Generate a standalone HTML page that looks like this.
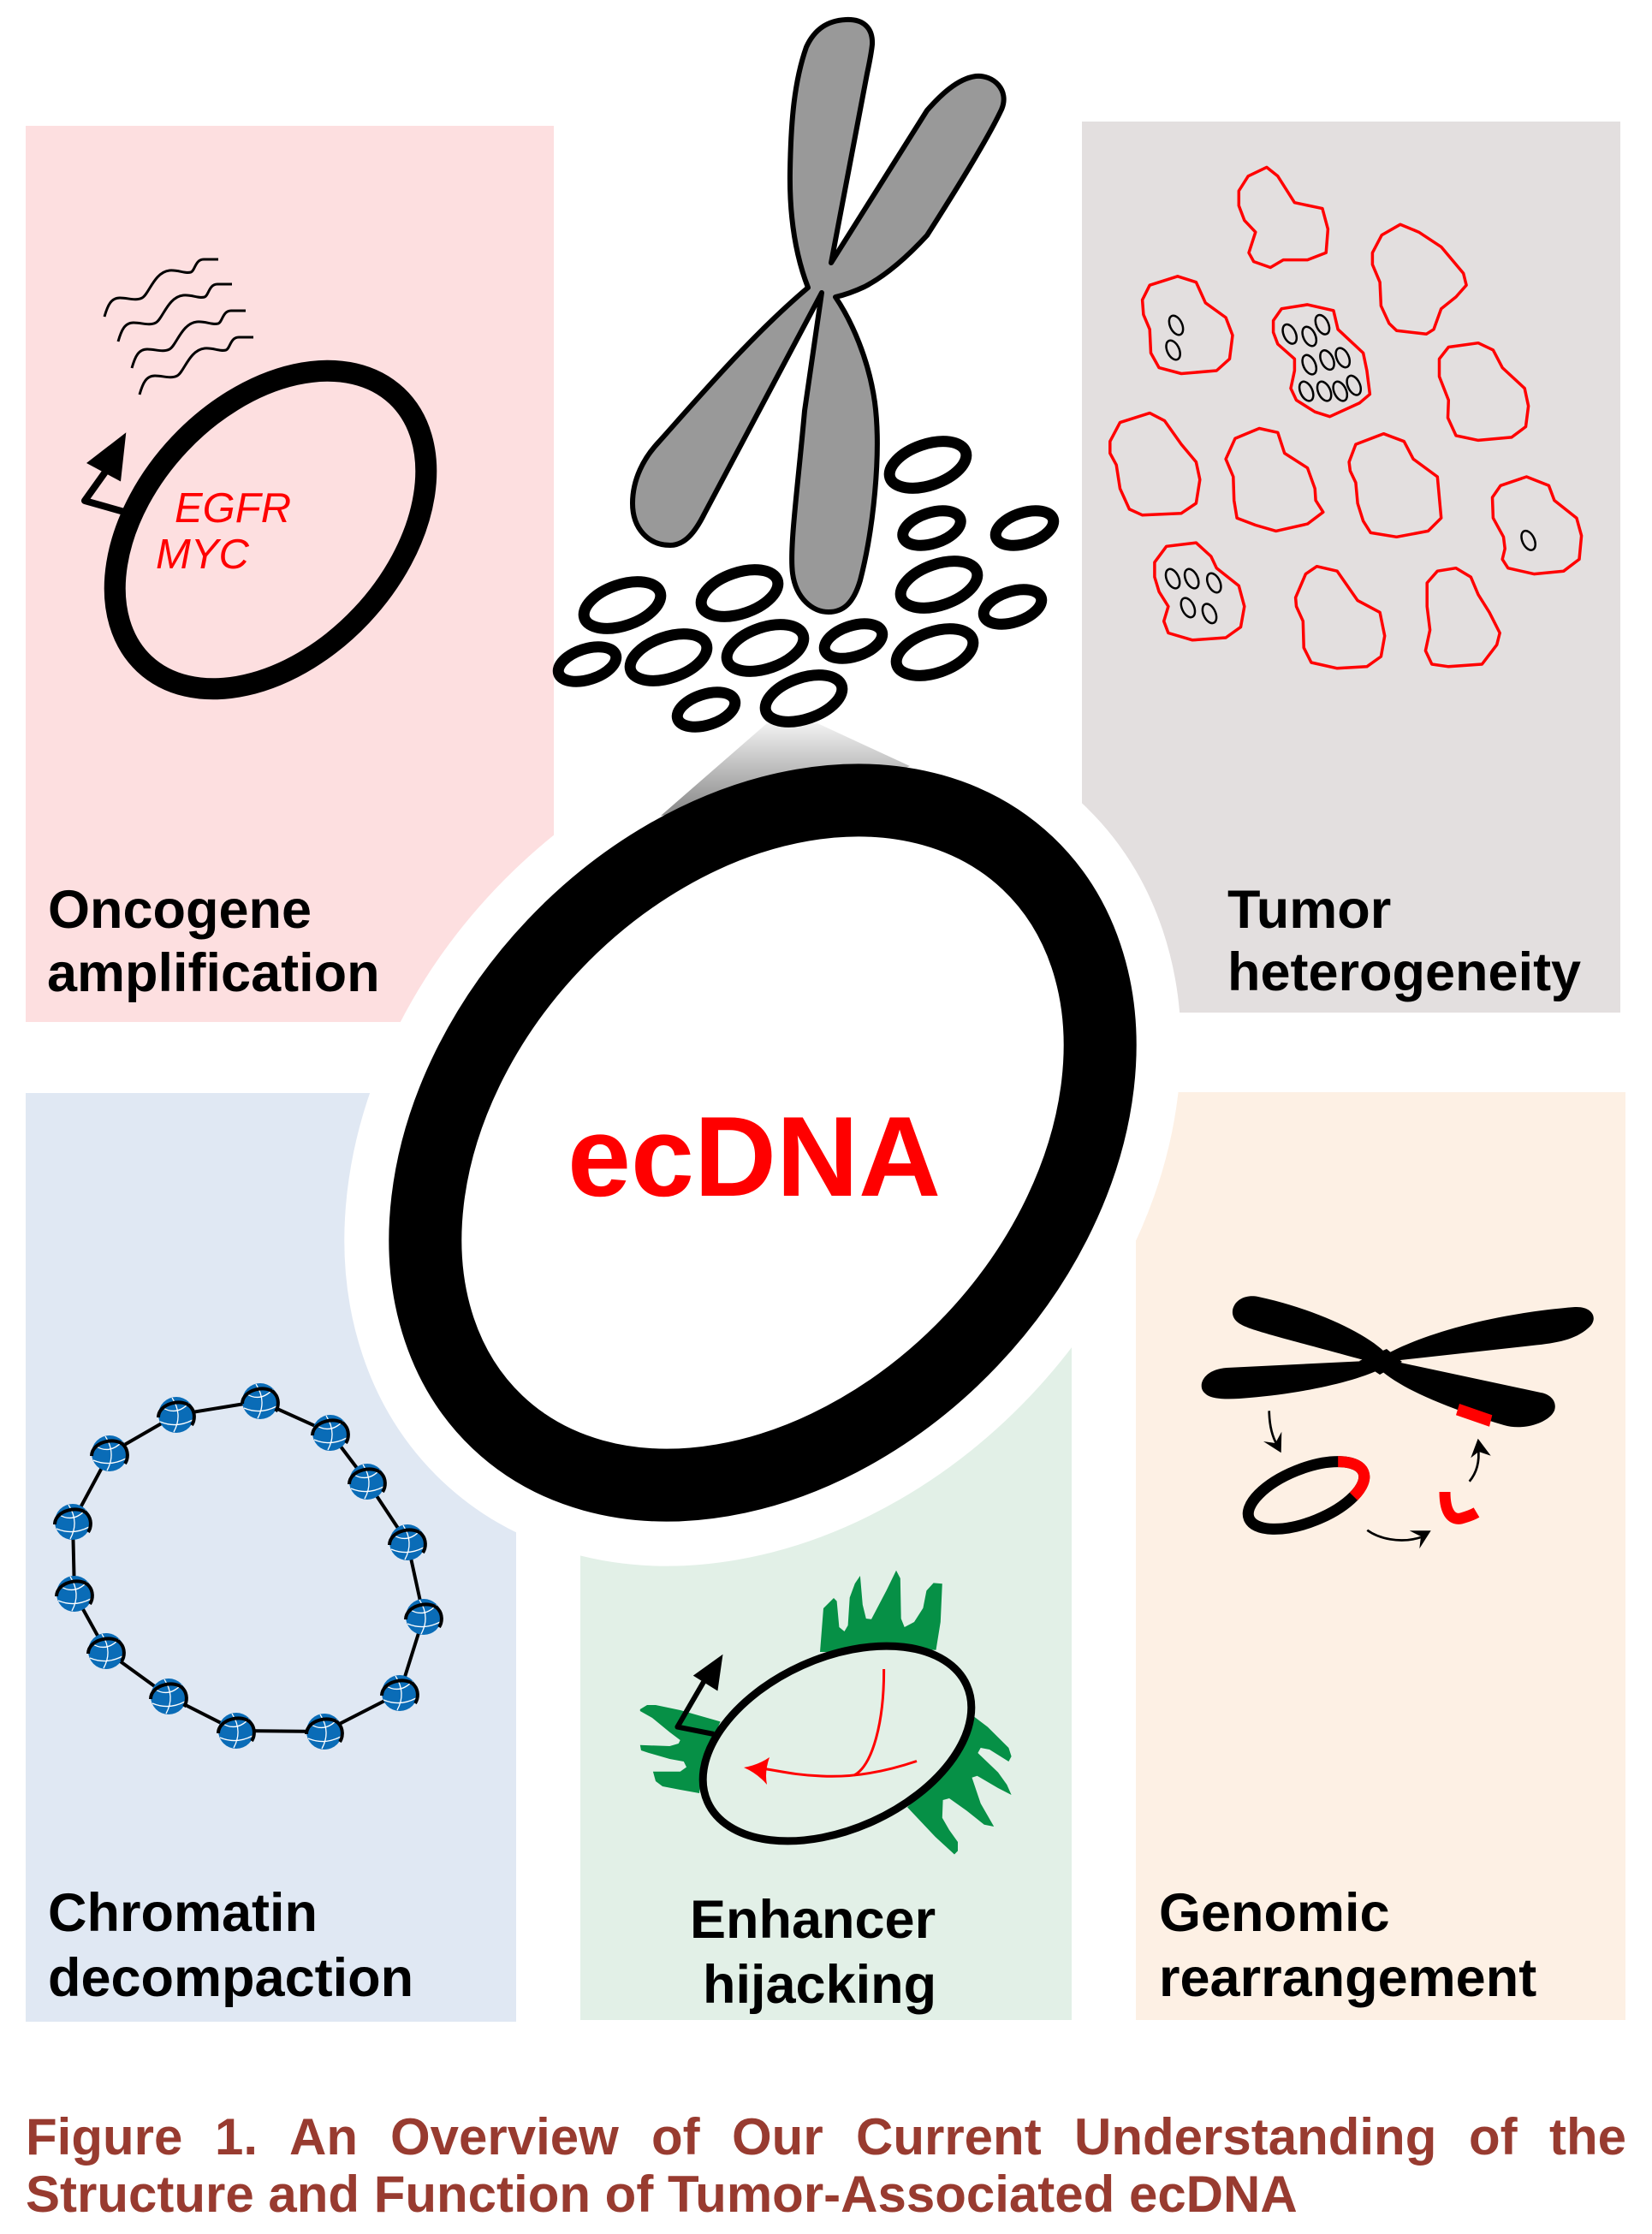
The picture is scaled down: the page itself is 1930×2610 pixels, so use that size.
<!DOCTYPE html>
<html>
<head>
<meta charset="utf-8">
<style>
html,body{margin:0;padding:0;background:#fff;}
svg{display:block;}
.lbl{font-family:"Liberation Sans",Arial,Helvetica,sans-serif;font-weight:bold;font-size:63px;fill:#000;}
.cap{font-family:"Liberation Sans",Arial,Helvetica,sans-serif;font-weight:bold;font-size:60px;fill:#983b30;}
</style>
</head>
<body>
<svg width="1930" height="2610" viewBox="0 0 1930 2610" xmlns="http://www.w3.org/2000/svg">
<defs>
  <linearGradient id="cg" x1="0" y1="845" x2="0" y2="945" gradientUnits="userSpaceOnUse">
    <stop offset="0" stop-color="#f2f2f2"/>
    <stop offset="1" stop-color="#8e8e8e"/>
  </linearGradient>
  <g id="bd">
    <circle r="21" fill="#0a6cb7"/>
    <path d="M-17,-9 Q0,2 15,-14 M-5,-20 Q8,0 -3,20 M-19,8 Q0,16 19,6" stroke="#fff" stroke-width="1.3" fill="none"/>
    <path d="M-21,3 C-21,-14 8,-20 17,-9 C22,-3 22,6 18,12" stroke="#000" stroke-width="4" fill="none"/>
  </g>
  <ellipse id="rl" rx="46.7" ry="24" transform="rotate(-19)" fill="none" stroke="#000" stroke-width="13"/>
  <ellipse id="rs" rx="35" ry="18" transform="rotate(-18)" fill="none" stroke="#000" stroke-width="13"/>
  <ellipse id="ov" rx="7" ry="12" transform="rotate(-25)" fill="none" stroke="#000" stroke-width="2.5"/>
  <path id="wv" d="M0,0 C4,-14 8,-22 18,-22 C28,-22 36,-18 44,-22 C52,-26 58,-52 76,-54 C86,-55 94,-50 101,-52 C106,-54 106,-67 116,-67 L133,-67" fill="none" stroke="#000" stroke-width="3"/>
</defs>

<rect width="1930" height="2610" fill="#fff"/>

<!-- panels -->
<rect x="30" y="147" width="617" height="1047" fill="#fddfe0"/>
<rect x="1264" y="142" width="629" height="1041" fill="#e3dfdf"/>
<rect x="30" y="1277" width="573" height="1085" fill="#e0e8f3"/>
<rect x="678" y="1300" width="574" height="1060" fill="#e2f0e7"/>
<rect x="1327" y="1276" width="572" height="1084" fill="#fdf0e4"/>

<!-- halo -->
<ellipse cx="891" cy="1335" rx="450" ry="336" transform="rotate(-46.5 891 1335)" fill="#fff" stroke="#fff" stroke-width="189"/>

<!-- cone -->
<polygon points="896,845 955,845 1063,895 1000,925 772,953" fill="url(#cg)"/>

<!-- central ring -->
<ellipse cx="891" cy="1335" rx="450" ry="336" transform="rotate(-46.5 891 1335)" fill="none" stroke="#000" stroke-width="85"/>
<text x="663" y="1397" font-family="'Liberation Sans',Arial,sans-serif" font-weight="bold" font-size="133" fill="#ff0000">ecDNA</text>

<!-- chromosome -->
<path d="M944,336 C932,305 922,260 923,200 C924,140 928,95 942,55 C952,33 968,24 988,23 C1008,22 1020,32 1019,52 C1018,62 1016,72 1013,86 L971,307 L1083,129 C1098,112 1118,92 1140,89 C1160,87 1180,105 1170,128 C1155,160 1115,225 1083,275 C1060,300 1035,322 1010,335 C995,342 985,345 976,347 C995,375 1015,420 1022,470 C1030,530 1020,620 1005,678 C997,705 985,715 968,715 C950,715 930,700 926,670 C922,640 932,570 940,480 L960,342 L823,600 C812,622 800,637 783,637 C758,637 739,618 739,588 C739,560 752,535 770,516 C820,460 880,390 944,336 Z" fill="#999" stroke="#000" stroke-width="6" stroke-linejoin="round"/>

<!-- small rings -->
<use href="#rl" x="1084" y="543"/>
<use href="#rl" x="1097" y="683"/>
<use href="#rl" x="1092" y="762"/>
<use href="#rl" x="894" y="757"/>
<use href="#rl" x="781" y="768"/>
<use href="#rl" x="727" y="707"/>
<use href="#rl" x="864" y="693"/>
<use href="#rl" x="939" y="816"/>
<use href="#rs" x="1088.5" y="617"/>
<use href="#rs" x="1197" y="617"/>
<use href="#rs" x="1183" y="709"/>
<use href="#rs" x="997" y="749"/>
<use href="#rs" x="686" y="776"/>
<use href="#rs" x="825" y="829"/>

<!-- Oncogene panel -->
<use href="#wv" x="122" y="370"/>
<use href="#wv" x="138" y="399"/>
<use href="#wv" x="154" y="430"/>
<use href="#wv" x="163" y="461"/>
<ellipse cx="316" cy="619" rx="215" ry="146" transform="rotate(-46.7 316 619)" fill="none" stroke="#000" stroke-width="25"/>
<polyline points="145,598 99,585 124,550" fill="none" stroke="#000" stroke-width="8" stroke-linejoin="round"/>
<polygon points="147.3,505.3 101,541 141,562.5" fill="#000"/>
<text x="204" y="610" font-family="'Liberation Sans',Arial,sans-serif" font-style="italic" font-size="49" fill="#ff0000">EGFR</text>
<text x="182" y="664" font-family="'Liberation Sans',Arial,sans-serif" font-style="italic" font-size="49" fill="#ff0000">MYC</text>
<text class="lbl" x="56" y="1084">Oncogene</text>
<text class="lbl" x="55" y="1158">amplification</text>

<!-- Tumor heterogeneity panel -->
<g fill="none" stroke="#ff0000" stroke-width="3.5" stroke-linejoin="round">
<polygon points="1447.3,223 1458.2,205.8 1479.8,195.4 1492.8,205.8 1512.4,236.7 1544.9,243.6 1551.4,267.7 1549.2,295.3 1527.5,303.6 1499.3,303.6 1484.2,312.5 1464.7,305.6 1459,295.3 1466.8,271.2 1453.8,257.4 1447.3,240.2"/>
<polygon points="1603.4,295.3 1614.3,274.6 1636,262.2 1657.6,271.2 1683.7,288.4 1709.7,319.4 1713.1,333.2 1701,346.9 1683.7,360.7 1675,384.8 1666.3,390.3 1631.6,386.2 1622.9,377.9 1613.4,357.3 1612.1,329.7 1603.4,309.1"/>
<polygon points="1334.6,350.4 1343.2,333.2 1375.8,322.8 1397.4,329.7 1408.3,353.8 1432.1,371 1440,391.7 1436.5,419.3 1421.3,433 1380.1,436.5 1354.1,429.6 1344.5,412.4 1343.2,384.8 1335.9,367.6"/>
<polygon points="1487.6,374.5 1497.2,360.7 1527.5,355.9 1557.9,362.8 1563.1,384.8 1592.6,412.4 1596.9,433 1600.4,460.6 1588.2,470.9 1553.6,486.7 1536.2,481.2 1514.5,467.5 1508,453.7 1512.4,433 1512.4,419.3 1492.8,402 1487.6,388.3"/>
<polygon points="1681.5,419.3 1692.3,405.5 1727,400.7 1744.4,408.9 1755.2,429.6 1781.2,453.7 1785.6,474.4 1782.5,498.5 1766,510.9 1727,514.4 1701,508.9 1691.5,488.1 1692.3,467.5 1681.5,439.9"/>
<polygon points="1296.8,515.7 1308.5,493.6 1343.2,482.6 1360.6,491.6 1380.1,519.1 1397.4,539.8 1401.8,560.4 1397.4,588 1380.1,599.7 1334.6,601.8 1319.4,594.9 1308.5,570.8 1304.2,543.2 1296.8,529.5"/>
<polygon points="1432.1,536.3 1443,512.2 1471.2,500.5 1492.8,505.3 1500.7,529.5 1527.5,546.7 1536.2,570.8 1537.1,584.6 1545.8,598.3 1527.5,612.1 1490.7,620.4 1466.8,613.5 1445.1,605.2 1441.7,584.6 1440.8,557"/>
<polygon points="1576.1,539.8 1583.9,519.1 1616.4,506.7 1640.3,515.7 1651.1,536.3 1679.3,557 1683.7,605.2 1668.5,620.4 1631.6,627.3 1601.3,622.4 1592.6,608.7 1586.1,588 1583.9,563.9 1577.4,550.1"/>
<polygon points="1743.5,581.1 1753.1,567.3 1783.4,557 1809.4,567.3 1815.9,584.6 1841.9,605.2 1847.6,625.9 1845,653.4 1826.8,667.2 1792.1,670.6 1761.8,663.7 1755.2,653.4 1758.2,641 1756.5,627.3 1744.4,605.2"/>
<polygon points="1348.9,656.9 1362.7,638.3 1397.4,634.1 1414.8,650 1421.3,663.7 1447.3,684.4 1453.8,708.5 1449.5,732.6 1432.1,745 1393.1,747.8 1364.9,739.5 1359.7,725.7 1364.9,708.5 1354.1,691.3 1348.9,674.1"/>
<polygon points="1513.6,698.2 1525.4,670.6 1538.4,661.7 1562.2,667.2 1586.1,701.6 1612.1,715.4 1617.7,742.9 1613.4,767 1596.9,778.8 1562.2,780.8 1531.9,774 1523.2,756.7 1522.3,725.7 1514.5,708.5"/>
<polygon points="1667.2,681 1679.3,667.2 1701,663.7 1718.3,674.1 1727,694.7 1740,715.4 1752.2,739.5 1748.7,753.3 1731.4,776 1692.3,778.8 1672.8,776 1665.4,760.2 1670.6,736 1667.2,708.5"/>
</g>
<use href="#ov" x="1374" y="380"/>
<use href="#ov" x="1370.6" y="409"/>
<use href="#ov" x="1506.7" y="390.3"/>
<use href="#ov" x="1529.7" y="393"/>
<use href="#ov" x="1544.9" y="379.3"/>
<use href="#ov" x="1529.7" y="426.1"/>
<use href="#ov" x="1550.5" y="420.6"/>
<use href="#ov" x="1568.7" y="417.9"/>
<use href="#ov" x="1526.2" y="457.1"/>
<use href="#ov" x="1547.1" y="457.1"/>
<use href="#ov" x="1565.7" y="457.1"/>
<use href="#ov" x="1581.7" y="450.2"/>
<use href="#ov" x="1785.6" y="631.4"/>
<use href="#ov" x="1370.1" y="676.1"/>
<use href="#ov" x="1392.2" y="676.1"/>
<use href="#ov" x="1418.3" y="681"/>
<use href="#ov" x="1387.9" y="709.9"/>
<use href="#ov" x="1413" y="716.8"/>
<text class="lbl" x="1434" y="1084">Tumor</text>
<text class="lbl" x="1434" y="1157">heterogeneity</text>

<!-- Chromatin panel -->
<polygon points="206,1653 304,1637 386,1674 429,1731 476,1802 495,1889 467,1978 379,2023 276,2022 197,1982 124,1929 87,1862 85,1778 128,1698" fill="none" stroke="#000" stroke-width="4" stroke-linejoin="round"/>
<use href="#bd" x="206" y="1653"/>
<use href="#bd" x="304" y="1637"/>
<use href="#bd" x="386" y="1674"/>
<use href="#bd" x="429" y="1731"/>
<use href="#bd" x="476" y="1802"/>
<use href="#bd" x="495" y="1889"/>
<use href="#bd" x="467" y="1978"/>
<use href="#bd" x="379" y="2023"/>
<use href="#bd" x="276" y="2022"/>
<use href="#bd" x="197" y="1982"/>
<use href="#bd" x="124" y="1929"/>
<use href="#bd" x="87" y="1862"/>
<use href="#bd" x="85" y="1778"/>
<use href="#bd" x="128" y="1698"/>
<text class="lbl" x="56" y="2256">Chromatin</text>
<text class="lbl" x="56" y="2332">decompaction</text>

<!-- Enhancer panel -->
<g fill="#069046">
<polygon points="958,1930 962,1879 974,1867 977.6,1870.6 980.4,1901 986.5,1906 990.6,1899 992.7,1866.5 998.8,1850 1004.9,1841 1007.8,1874.7 1011.8,1891 1018,1891.8 1035.5,1858.4 1047,1834.7 1051.8,1844 1052.7,1891 1056.7,1901 1068,1895 1078.4,1878.8 1082.4,1858.4 1090.6,1849.4 1100.8,1850.2 1098.8,1895 1093.5,1927.8 1040,1925 990,1930"/>
<polygon points="747.8,1997 756,1992 766,1992 794.7,1998 841.6,2011.4 835.5,2025.7 823,2050 817,2095 794.7,2091 774,2087 766,2081 762.9,2069.8 794.7,2069.8 802,2064.5 798.8,2058 782.4,2055 758,2048 749,2045 747.8,2038.8 782.4,2040 792.7,2037 794.7,2033 782.4,2023.7 762,2007 747.8,1999"/>
<polygon points="1137.6,2005.3 1153.9,2017.6 1178.4,2042 1181.6,2052 1178.4,2058 1156,2044 1145.7,2042 1142.4,2048 1166,2070.6 1176.3,2085 1181.6,2097 1166,2089 1141.6,2074.7 1135.5,2076.7 1145.7,2107 1161.2,2134 1149.8,2131.8 1129.4,2115.5 1109,2101 1101.6,2103 1100.8,2123.7 1109,2138 1119,2152 1119,2162.4 1115,2166.5 1092.7,2146 1060,2111.4 1109,2066.5"/>
</g>
<ellipse cx="978" cy="2037" rx="166" ry="100" transform="rotate(-24.3 978 2037)" fill="#e2f0e7" stroke="#000" stroke-width="9"/>
<polyline points="834,2026 791.4,2017.6 822,1965" fill="none" stroke="#000" stroke-width="6" stroke-linejoin="round"/>
<polygon points="844.5,1932.7 809.8,1957.6 838.4,1975.5" fill="#000"/>
<g fill="none" stroke="#ff0000" stroke-width="3">
<path d="M1032.6,1950 C1033,2010 1020,2062 998,2074"/>
<path d="M1071,2057.5 C1040,2068 1000,2077 960,2075 C930,2074 910,2069 893,2066.5"/>
</g>
<path d="M869,2065 Q886,2062 899,2053 Q893,2070 896,2085 Q885,2072 869,2065 Z" fill="#ff0000"/>
<text class="lbl" x="806" y="2264">Enhancer</text>
<text class="lbl" x="821" y="2340">hijacking</text>

<!-- Genomic rearrangement panel -->
<g fill="#000">
<path d="M1620,1582 C1600,1560 1540,1530 1470,1515 C1445,1510 1432,1532 1445,1544 C1455,1553 1480,1558 1597,1590 Z"/>
<path d="M1620,1582 C1660,1560 1740,1535 1840,1527 C1862,1526 1868,1542 1855,1552 C1840,1565 1820,1569 1790,1572 L1627,1590 Z"/>
<path d="M1597,1590 L1433,1598 C1405,1600 1398,1620 1408,1628 C1415,1636 1440,1635 1460,1633 C1520,1628 1580,1615 1612,1600 Z"/>
<path d="M1612,1600 C1640,1625 1700,1648 1757,1665 C1780,1672 1810,1662 1816,1648 C1820,1635 1808,1628 1800,1627 L1627,1590 Z"/>
<polygon points="1588,1590 1620,1576 1638,1591 1612,1606"/>
<circle cx="1612" cy="1592" r="10"/>
</g>
<polygon points="1705,1640 1743.3,1653.3 1740,1666.7 1701,1653.3" fill="#ff0000"/>
<ellipse cx="1526" cy="1747" rx="72" ry="31" transform="rotate(-22 1526 1747)" fill="none" stroke="#000" stroke-width="13"/>
<path d="M1563.2,1707.6 A72,31 -22 0 1 1581.4,1748.3" fill="none" stroke="#ff0000" stroke-width="13"/>
<path d="M1688,1743 C1688,1770 1698,1776 1707,1774 C1714,1772 1720,1770 1725,1767" fill="none" stroke="#ff0000" stroke-width="13"/>
<g fill="none" stroke="#000" stroke-width="2.7">
<path d="M1482.7,1648.3 C1483,1665 1486,1678 1492,1688"/>
<path d="M1597.3,1787.7 C1610,1797 1635,1804 1660,1796"/>
<path d="M1716.7,1730.7 C1724,1722 1729,1710 1727,1692"/>
</g>
<g fill="#000">
<polygon points="1496.7,1697.3 1476,1684 1490,1686 1497.3,1672.7"/>
<polygon points="1671.7,1788.3 1646.7,1788.3 1660,1795 1658.3,1809.3"/>
<polygon points="1726.7,1680.7 1718.3,1703.3 1727.5,1696 1741.7,1700.7"/>
</g>
<text class="lbl" x="1354" y="2256">Genomic</text>
<text class="lbl" x="1354" y="2332">rearrangement</text>

<!-- caption -->
<text class="cap" x="30" y="2517">Figure</text>
<text class="cap" x="251" y="2517">1.</text>
<text class="cap" x="338" y="2517">An</text>
<text class="cap" x="456" y="2517">Overview</text>
<text class="cap" x="761" y="2517">of</text>
<text class="cap" x="855" y="2517">Our</text>
<text class="cap" x="1000" y="2517">Current</text>
<text class="cap" x="1255" y="2517">Understanding</text>
<text class="cap" x="1716" y="2517">of</text>
<text class="cap" x="1810" y="2517">the</text>
<text class="cap" x="30" y="2584">Structure and Function of Tumor-Associated ecDNA</text>
</svg>
</body>
</html>
